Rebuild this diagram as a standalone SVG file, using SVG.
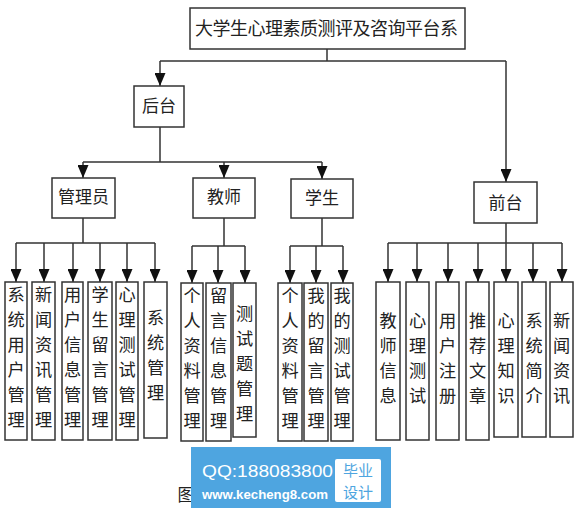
<svg xmlns="http://www.w3.org/2000/svg" width="582" height="514" viewBox="0 0 582 514">
<style>
.box{fill:#fff;stroke:#333;stroke-width:1.5}
.t{font-family:"Noto Sans CJK SC","Noto Sans",sans-serif;fill:#222;text-anchor:middle}
.v{font-size:17.2px}
.h{font-size:17px}
.c{fill:none;stroke:#333;stroke-width:1.5}
.a{fill:none;stroke:#333;stroke-width:1.5;marker-end:url(#ar)}
</style>
<defs>
<marker id="ar" markerUnits="userSpaceOnUse" markerWidth="14" markerHeight="11" refX="13" refY="5.5" orient="auto">
<path d="M0,0 L13,5.5 L0,11 z" fill="#111"/>
</marker>
</defs>
<rect width="582" height="514" fill="#fff"/>
<g id="connectors">
<path class="c" d="M327,49 V61 M160,61 H506"/>
<path class="a" d="M160,61 V86"/>
<path class="a" d="M506,61 V182"/>
<path class="c" d="M160,127 V162 M83,162 H322"/>
<path class="a" d="M83,162 V178"/>
<path class="a" d="M224,162 V178"/>
<path class="a" d="M322,162 V179"/>
<path class="c" d="M83,218 V243 M16,243 H155"/>
<path class="a" d="M16,243 V282"/>
<path class="a" d="M44,243 V282"/>
<path class="a" d="M73,243 V282"/>
<path class="a" d="M100,243 V282"/>
<path class="a" d="M127,243 V282"/>
<path class="a" d="M155,243 V282"/>
<path class="c" d="M224,218 V246 M192,246 H245"/>
<path class="a" d="M192,246 V283"/>
<path class="a" d="M218,246 V283"/>
<path class="a" d="M245,246 V283"/>
<path class="c" d="M322,218 V246 M290,246 H343"/>
<path class="a" d="M290,246 V283"/>
<path class="a" d="M316,246 V283"/>
<path class="a" d="M343,246 V283"/>
<path class="c" d="M506,223 V243 M388,243 H562"/>
<path class="a" d="M388,243 V282"/>
<path class="a" d="M417,243 V282"/>
<path class="a" d="M448,243 V282"/>
<path class="a" d="M478,243 V282"/>
<path class="a" d="M506,243 V282"/>
<path class="a" d="M533,243 V282"/>
<path class="a" d="M562,243 V282"/>
</g>
<g id="root"><rect class="box" x="190" y="8" width="275" height="41"/><text class="t" x="326.5" y="35" font-size="18" textLength="263" lengthAdjust="spacing">大学生心理素质测评及咨询平台系</text></g>
<g id="houtai"><rect class="box" x="134" y="86" width="50" height="41"/><text class="t h" x="159" y="111.5">后台</text></g>
<g id="guanliyuan"><rect class="box" x="52" y="178" width="63" height="40"/><text class="t h" x="83.5" y="203">管理员</text></g>
<g id="jiaoshi"><rect class="box" x="193" y="178" width="62" height="40"/><text class="t h" x="224" y="203">教师</text></g>
<g id="xuesheng"><rect class="box" x="291" y="179" width="62" height="39"/><text class="t h" x="322" y="204">学生</text></g>
<g id="qiantai"><rect class="box" x="474" y="182" width="63" height="41"/><text class="t h" x="505.5" y="209">前台</text></g>

<g id="l1"><rect class="box" x="5" y="282" width="22" height="158"/><text class="t v" x="16" y="300.5"><tspan x="16">系</tspan><tspan x="16" dy="25">统</tspan><tspan x="16" dy="25">用</tspan><tspan x="16" dy="25">户</tspan><tspan x="16" dy="25">管</tspan><tspan x="16" dy="25">理</tspan></text></g>
<g id="l2"><rect class="box" x="32" y="282" width="23" height="158"/><text class="t v" x="43.5" y="300.5"><tspan x="43.5">新</tspan><tspan x="43.5" dy="25">闻</tspan><tspan x="43.5" dy="25">资</tspan><tspan x="43.5" dy="25">讯</tspan><tspan x="43.5" dy="25">管</tspan><tspan x="43.5" dy="25">理</tspan></text></g>
<g id="l3"><rect class="box" x="62" y="282" width="21" height="158"/><text class="t v" x="72.5" y="300.5"><tspan x="72.5">用</tspan><tspan x="72.5" dy="25">户</tspan><tspan x="72.5" dy="25">信</tspan><tspan x="72.5" dy="25">息</tspan><tspan x="72.5" dy="25">管</tspan><tspan x="72.5" dy="25">理</tspan></text></g>
<g id="l4"><rect class="box" x="88" y="282" width="24" height="158"/><text class="t v" x="100" y="300.5"><tspan x="100">学</tspan><tspan x="100" dy="25">生</tspan><tspan x="100" dy="25">留</tspan><tspan x="100" dy="25">言</tspan><tspan x="100" dy="25">管</tspan><tspan x="100" dy="25">理</tspan></text></g>
<g id="l5"><rect class="box" x="116" y="282" width="22" height="158"/><text class="t v" x="127" y="300.5"><tspan x="127">心</tspan><tspan x="127" dy="25">理</tspan><tspan x="127" dy="25">测</tspan><tspan x="127" dy="25">试</tspan><tspan x="127" dy="25">管</tspan><tspan x="127" dy="25">理</tspan></text></g>
<g id="l6"><rect class="box" x="144" y="282" width="23" height="156"/><text class="t v" x="155.5" y="323.5"><tspan x="155.5">系</tspan><tspan x="155.5" dy="25">统</tspan><tspan x="155.5" dy="25">管</tspan><tspan x="155.5" dy="25">理</tspan></text></g>

<g id="l7"><rect class="box" x="181" y="283" width="22" height="158"/><text class="t v" x="192" y="301.5"><tspan x="192">个</tspan><tspan x="192" dy="25">人</tspan><tspan x="192" dy="25">资</tspan><tspan x="192" dy="25">料</tspan><tspan x="192" dy="25">管</tspan><tspan x="192" dy="25">理</tspan></text></g>
<g id="l8"><rect class="box" x="206" y="283" width="25" height="158"/><text class="t v" x="218.5" y="301.5"><tspan x="218.5">留</tspan><tspan x="218.5" dy="25">言</tspan><tspan x="218.5" dy="25">信</tspan><tspan x="218.5" dy="25">息</tspan><tspan x="218.5" dy="25">管</tspan><tspan x="218.5" dy="25">理</tspan></text></g>
<g id="l9"><rect class="box" x="233" y="283" width="23" height="154"/><text class="t v" x="244.5" y="319.5"><tspan x="244.5">测</tspan><tspan x="244.5" dy="25">试</tspan><tspan x="244.5" dy="25">题</tspan><tspan x="244.5" dy="25">管</tspan><tspan x="244.5" dy="25">理</tspan></text></g>

<g id="l10"><rect class="box" x="278" y="283" width="24" height="158"/><text class="t v" x="290" y="301.5"><tspan x="290">个</tspan><tspan x="290" dy="25">人</tspan><tspan x="290" dy="25">资</tspan><tspan x="290" dy="25">料</tspan><tspan x="290" dy="25">管</tspan><tspan x="290" dy="25">理</tspan></text></g>
<g id="l11"><rect class="box" x="304" y="283" width="24" height="158"/><text class="t v" x="316" y="301.5"><tspan x="316">我</tspan><tspan x="316" dy="25">的</tspan><tspan x="316" dy="25">留</tspan><tspan x="316" dy="25">言</tspan><tspan x="316" dy="25">管</tspan><tspan x="316" dy="25">理</tspan></text></g>
<g id="l12"><rect class="box" x="331" y="283" width="22" height="158"/><text class="t v" x="342" y="301.5"><tspan x="342">我</tspan><tspan x="342" dy="25">的</tspan><tspan x="342" dy="25">测</tspan><tspan x="342" dy="25">试</tspan><tspan x="342" dy="25">管</tspan><tspan x="342" dy="25">理</tspan></text></g>

<g id="l13"><rect class="box" x="376" y="282" width="24" height="158"/><text class="t v" x="388" y="326.5"><tspan x="388">教</tspan><tspan x="388" dy="25">师</tspan><tspan x="388" dy="25">信</tspan><tspan x="388" dy="25">息</tspan></text></g>
<g id="l14"><rect class="box" x="406" y="282" width="23" height="158"/><text class="t v" x="417.5" y="326.5"><tspan x="417.5">心</tspan><tspan x="417.5" dy="25">理</tspan><tspan x="417.5" dy="25">测</tspan><tspan x="417.5" dy="25">试</tspan></text></g>
<g id="l15"><rect class="box" x="436" y="282" width="23" height="158"/><text class="t v" x="447.5" y="326.5"><tspan x="447.5">用</tspan><tspan x="447.5" dy="25">户</tspan><tspan x="447.5" dy="25">注</tspan><tspan x="447.5" dy="25">册</tspan></text></g>
<g id="l16"><rect class="box" x="466" y="282" width="23" height="158"/><text class="t v" x="477.5" y="326.5"><tspan x="477.5">推</tspan><tspan x="477.5" dy="25">荐</tspan><tspan x="477.5" dy="25">文</tspan><tspan x="477.5" dy="25">章</tspan></text></g>
<g id="l17"><rect class="box" x="494" y="282" width="24" height="155"/><text class="t v" x="506" y="326.5"><tspan x="506">心</tspan><tspan x="506" dy="25">理</tspan><tspan x="506" dy="25">知</tspan><tspan x="506" dy="25">识</tspan></text></g>
<g id="l18"><rect class="box" x="522" y="282" width="24" height="155"/><text class="t v" x="534" y="326.5"><tspan x="534">系</tspan><tspan x="534" dy="25">统</tspan><tspan x="534" dy="25">简</tspan><tspan x="534" dy="25">介</tspan></text></g>
<g id="l19"><rect class="box" x="550" y="282" width="23" height="155"/><text class="t v" x="561.5" y="326.5"><tspan x="561.5">新</tspan><tspan x="561.5" dy="25">闻</tspan><tspan x="561.5" dy="25">资</tspan><tspan x="561.5" dy="25">讯</tspan></text></g>

<text class="t" x="186" y="501" font-size="17">图</text>
<g id="watermark">
<rect x="191" y="447" width="200" height="61" fill="#4ea5e0"/>
<text x="202" y="477" font-family="'Liberation Sans',Arial,sans-serif" font-size="17" fill="#fff" textLength="131" lengthAdjust="spacingAndGlyphs">QQ:188083800</text>
<text x="202" y="499" font-family="'Liberation Sans',Arial,sans-serif" font-size="13" font-weight="bold" fill="#fff" textLength="126" lengthAdjust="spacingAndGlyphs">www.kecheng8.com</text>
<rect x="335" y="459" width="46" height="43" rx="2" fill="#fff"/>
<text x="358" y="476" font-family="'Noto Sans CJK SC',sans-serif" font-size="15" fill="#4ea5e0" text-anchor="middle">毕业</text>
<text x="358" y="498" font-family="'Noto Sans CJK SC',sans-serif" font-size="15" fill="#4ea5e0" text-anchor="middle">设计</text>
</g>
</svg>
